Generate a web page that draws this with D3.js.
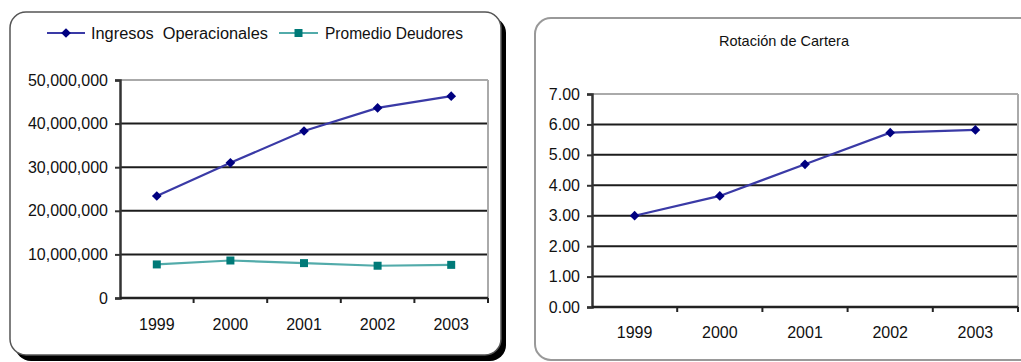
<!DOCTYPE html>
<html>
<head>
<meta charset="utf-8">
<script src="https://cdn.jsdelivr.net/npm/d3@7"></script>
<style>
  html, body { margin: 0; padding: 0; background: #fff; }
  svg { display: block; }
  text { font-family: "Liberation Sans", Arial, sans-serif; fill: #111; }
</style>
</head>
<body>
<svg id="chart" width="1021" height="362"></svg>
<script>
// Years shared by both panels
const years = ["1999", "2000", "2001", "2002", "2003"];

// Left panel: operating income vs. average receivables
const ingresosOperacionales = [23400000, 31000000, 38300000, 43600000, 46300000];
const promedioDeudores = [7700000, 8600000, 8000000, 7400000, 7600000];
const leftTicks = [0, 10000000, 20000000, 30000000, 40000000, 50000000];
const leftSeriesNames = ["Ingresos  Operacionales", "Promedio Deudores"];

// Right panel: receivables turnover
const rotacionCartera = [3.00, 3.65, 4.69, 5.73, 5.82];
const rightTicks = [0, 1, 2, 3, 4, 5, 6, 7];
const rightTitle = "Rotación de Cartera";

const svg = d3.select("#chart");

const navyLine = "#3a3aa6", navyMark = "#000080";
const tealLine = "#52abaa", tealMark = "#007a78";

// ---------- frames ----------
svg.append("rect").attr("x", 15).attr("y", 17).attr("width", 491).attr("height", 344)
  .attr("rx", 16).attr("fill", "#000");
svg.append("rect").attr("x", 10).attr("y", 12).attr("width", 491).attr("height", 343)
  .attr("rx", 16).attr("fill", "#fff").attr("stroke", "#555").attr("stroke-width", 1.5);

svg.append("rect").attr("x", 535).attr("y", 18).attr("width", 500).attr("height", 342)
  .attr("rx", 16).attr("fill", "#fff").attr("stroke", "#999").attr("stroke-width", 2);

// ---------- shared panel drawing ----------
function panel(g, cfg) {
  const x = d3.scaleBand().domain(years).range([cfg.x0, cfg.x1]);
  const y = d3.scaleLinear().domain([0, cfg.max]).range([cfg.yBottom, cfg.yTop]);

  // gridlines
  g.selectAll("line.grid").data(cfg.ticks.filter(t => t > 0 && t < cfg.max)).join("line")
    .attr("class", "grid")
    .attr("x1", cfg.x0).attr("x2", cfg.x1)
    .attr("y1", d => y(d)).attr("y2", d => y(d))
    .attr("stroke", "#1c1c1c").attr("stroke-width", 2);

  // plot-area top and right border
  g.append("line").attr("x1", cfg.x0).attr("x2", cfg.x1)
    .attr("y1", y(cfg.max)).attr("y2", y(cfg.max))
    .attr("stroke", "#aaa").attr("stroke-width", 2);
  g.append("line").attr("x1", cfg.x1).attr("x2", cfg.x1)
    .attr("y1", y(cfg.max)).attr("y2", y(0))
    .attr("stroke", "#aaa").attr("stroke-width", 2);

  // y axis
  const yAxis = d3.axisLeft(y).tickValues(cfg.ticks).tickFormat(cfg.fmt)
    .tickSize(5).tickPadding(7);
  const ya = g.append("g").attr("transform", `translate(${cfg.x0},0)`).call(yAxis);
  ya.select(".domain").attr("stroke", "#333").attr("stroke-width", 2.5);
  ya.selectAll(".tick line").attr("stroke", "#333").attr("stroke-width", 2);
  ya.selectAll("text").attr("font-size", 16).attr("fill", "#111")
    .attr("font-family", "Liberation Sans, Arial, sans-serif");

  // x axis: ticks at band edges, labels at band centres
  const xa = g.append("g");
  xa.append("line").attr("x1", cfg.x0).attr("x2", cfg.x1)
    .attr("y1", y(0)).attr("y2", y(0)).attr("stroke", "#222").attr("stroke-width", 2.5);
  const edges = years.map(d => x(d) + x.bandwidth());
  xa.selectAll("line.xt").data(edges).join("line").attr("class", "xt")
    .attr("x1", d => d).attr("x2", d => d)
    .attr("y1", y(0)).attr("y2", y(0) + 5)
    .attr("stroke", "#222").attr("stroke-width", 2);
  xa.selectAll("text").data(years).join("text")
    .attr("x", d => x(d) + x.bandwidth() / 2)
    .attr("y", cfg.labelY)
    .attr("text-anchor", "middle").attr("font-size", 16)
    .text(d => d);

  return { x, y };
}

function drawSeries(g, sc, values, lineColor, markColor, shape, size) {
  const line = d3.line()
    .x((d, i) => sc.x(years[i]) + sc.x.bandwidth() / 2)
    .y(d => sc.y(d));
  g.append("path").datum(values).attr("d", line)
    .attr("fill", "none").attr("stroke", lineColor).attr("stroke-width", 2.2);
  g.selectAll(null).data(values).join("path")
    .attr("transform", (d, i) => `translate(${sc.x(years[i]) + sc.x.bandwidth() / 2},${sc.y(d)})`)
    .attr("d", d3.symbol().type(shape).size(size))
    .attr("fill", markColor);
}

// ---------- left panel ----------
const left = svg.append("g");
const ls = panel(left, {
  x0: 120, x1: 488, yTop: 80, yBottom: 298, max: 50000000,
  ticks: leftTicks, fmt: d3.format(","), labelY: 330
});
drawSeries(left, ls, promedioDeudores, tealLine, tealMark, d3.symbolSquare, 64);
drawSeries(left, ls, ingresosOperacionales, navyLine, navyMark, d3.symbolDiamond2, 60);

// legend
const legend = svg.append("g");
const legendItems = [
  { name: leftSeriesNames[0], lc: navyLine, mc: navyMark, shape: d3.symbolDiamond2, size: 60, x0: 47, x1: 85, tx: 91, w: 177 },
  { name: leftSeriesNames[1], lc: tealLine, mc: tealMark, shape: d3.symbolSquare, size: 64, x0: 279, x1: 318, tx: 325, w: 138 }
];
legendItems.forEach(it => {
  legend.append("line").attr("x1", it.x0).attr("x2", it.x1).attr("y1", 33).attr("y2", 33)
    .attr("stroke", it.lc).attr("stroke-width", 2.2);
  legend.append("path").attr("transform", `translate(${(it.x0 + it.x1) / 2},33)`)
    .attr("d", d3.symbol().type(it.shape).size(it.size)).attr("fill", it.mc);
  legend.append("text").attr("x", it.tx).attr("y", 39).attr("font-size", 16)
    .attr("xml:space", "preserve").style("white-space", "pre")
    .attr("textLength", it.w).attr("lengthAdjust", "spacingAndGlyphs")
    .text(it.name);
});

// ---------- right panel ----------
const right = svg.append("g");
const rs = panel(right, {
  x0: 592, x1: 1018, yTop: 94, yBottom: 307, max: 7,
  ticks: rightTicks, fmt: d3.format(".2f"), labelY: 338
});
drawSeries(right, rs, rotacionCartera, navyLine, navyMark, d3.symbolDiamond2, 60);

svg.append("text").attr("x", 784).attr("y", 46).attr("text-anchor", "middle")
  .attr("font-size", 15).attr("textLength", 130).attr("lengthAdjust", "spacingAndGlyphs")
  .text(rightTitle);
</script>
</body>
</html>
